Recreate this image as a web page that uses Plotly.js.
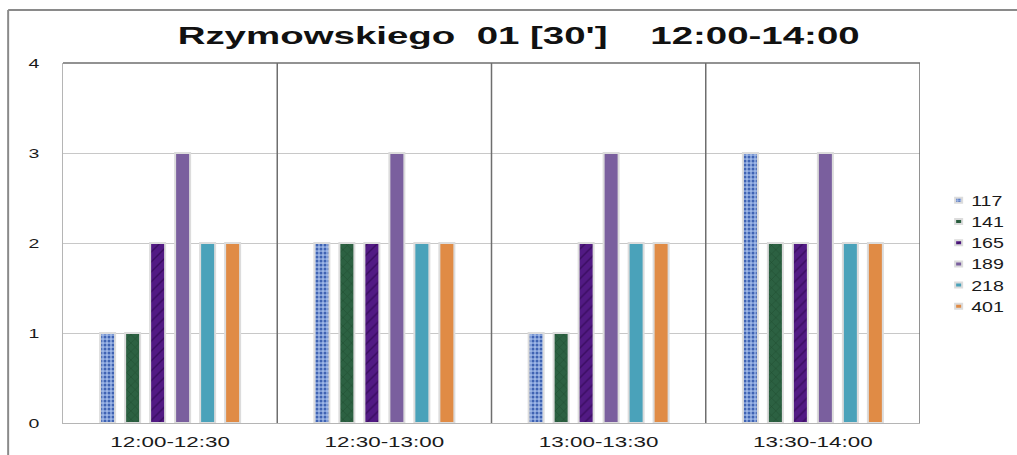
<!DOCTYPE html>
<html>
<head>
<meta charset="utf-8">
<script src="https://cdn.plot.ly/plotly-3.0.1.min.js"></script>
<style>html,body{margin:0;padding:0;background:#fff;}#chart{width:1017px;height:455px;}</style>
</head>
<body>
<div id="chart"></div>
<script>
const categories = ["12:00-12:30", "12:30-13:00", "13:00-13:30", "13:30-14:00"];
const seriesNames = ["117", "141", "165", "189", "218", "401"];
const v117 = [1, 2, 1, 3];
const v141 = [1, 2, 1, 2];
const v165 = [2, 2, 2, 2];
const v189 = [3, 3, 3, 3];
const v218 = [2, 2, 2, 2];
const v401 = [2, 2, 2, 2];
const yTicks = [0, 1, 2, 3, 4];
const titleText = "Rzymowskiego  01 [30']    12:00-14:00";

const values = [v117, v141, v165, v189, v218, v401];
const styles = [
  {color: "#86a3dc", pattern: {shape: ".", fgcolor: "#3f63b3", bgcolor: "#9db6e6", size: 4, solidity: 0.45}},
  {color: "#27573a", pattern: {shape: "x", fgcolor: "#1f4a2e", bgcolor: "#2c6142", size: 6, solidity: 0.15}},
  {color: "#4a1478", pattern: {shape: "/", fgcolor: "#3a0d60", bgcolor: "#521a84", size: 7, solidity: 0.2}},
  {color: "#7a5f9e"},
  {color: "#4aa2ba"},
  {color: "#e08b45"}
];

const traces = seriesNames.map((n, i) => ({
  type: "bar",
  name: n,
  x: categories,
  y: values[i],
  marker: Object.assign({line: {color: "#dcdcdc", width: 2}}, styles[i]),
  hoverinfo: "x+y+name"
}));

const shapes = [];
for (let k = 0; k < categories.length; k++) {
  shapes.push({type: "line", xref: "x", yref: "paper", x0: k + 0.5, x1: k + 0.5, y0: 0, y1: 1,
    line: {color: "#6e6e6e", width: 1.5}, layer: "above"});
}
shapes.push({type: "line", xref: "paper", yref: "paper", x0: 0, x1: 1, y0: 1, y1: 1,
  line: {color: "#6e6e6e", width: 1.5}, layer: "above"});
// outer frame (left and top)
shapes.push({type: "line", xref: "paper", yref: "paper", x0: -0.064, x1: -0.064, y0: -0.12, y1: 1.147,
  line: {color: "#8a8a8a", width: 2}});
shapes.push({type: "line", xref: "paper", yref: "paper", x0: -0.064, x1: 1.2, y0: 1.147, y1: 1.147,
  line: {color: "#8a8a8a", width: 2}});

const layout = {
  width: 1017, height: 455,
  margin: {l: 63, r: 97, t: 63, b: 32, pad: 0, autoexpand: false},
  paper_bgcolor: "#ffffff", plot_bgcolor: "#ffffff",
  font: {family: "Liberation Sans, Arial, sans-serif", color: "#1a1a1a", size: 14},
  title: {text: titleText, font: {family: "Liberation Sans, Arial, sans-serif", size: 23, color: "#111", weight: "bold"},
    x: 0.51, xref: "container", xanchor: "center", y: 0.921, yref: "container", yanchor: "middle"},
  barmode: "group", bargap: 0.3, bargroupgap: 0.4,
  xaxis: {type: "category", range: [-0.5, 3.5], showgrid: false, showline: true, linecolor: "#b5b5b5", linewidth: 1,
    ticks: "", ticklabelstandoff: 6, tickfont: {size: 14, color: "#1a1a1a"}, fixedrange: true, automargin: false},
  yaxis: {range: [0, 4], tickvals: yTicks, ticktext: yTicks.map(String), showgrid: true, gridcolor: "#c8c8c8", gridwidth: 1,
    zeroline: false, showline: true, linecolor: "#b5b5b5", linewidth: 1, ticks: "", ticklabelstandoff: 20,
    tickfont: {size: 13, color: "#1a1a1a"}, fixedrange: true, automargin: false},
  legend: {x: 1.013, xanchor: "left", y: 0.662, yanchor: "top", font: {size: 14, color: "#1a1a1a"},
    bgcolor: "rgba(0,0,0,0)", itemwidth: 30, tracegroupgap: 0},
  shapes: shapes,
  showlegend: true
};

function stretch(sel, factor, fixedWidth) {
  document.querySelectorAll(sel).forEach(el => {
    const w = el.getComputedTextLength();
    if (!w) return;
    el.setAttribute("textLength", fixedWidth ? fixedWidth : w * factor);
    el.setAttribute("lengthAdjust", "spacingAndGlyphs");
  });
}

Plotly.newPlot("chart", traces, layout, {displayModeBar: false, staticPlot: true}).then(() => {
  // the reference chart's text is horizontally widened
  stretch("#chart .gtitle", 1, 682);
  stretch("#chart .xtick text", 1.6);
  stretch("#chart .ytick text", 1.5);
  stretch("#chart .legendtext", 1.4);
  // let the widened legend labels show in full
  document.querySelectorAll("#chart .legend, #chart .legend *").forEach(el => {
    if (el.hasAttribute("clip-path")) el.removeAttribute("clip-path");
  });
  // small legend keys as in the reference
  document.querySelectorAll("#chart .legendpoints path").forEach(p => {
    p.setAttribute("d", "M11,2.5H4V-2.5H11Z");
  });
});
</script>
</body>
</html>
